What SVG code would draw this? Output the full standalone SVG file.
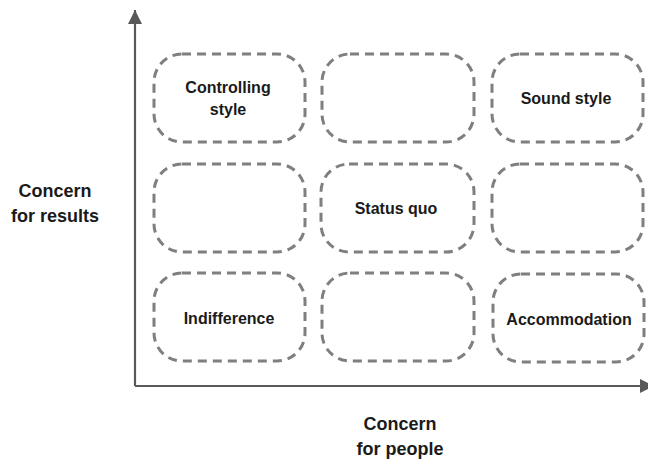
<svg xmlns="http://www.w3.org/2000/svg" width="648" height="464" viewBox="0 0 648 464">
  <style>
    .cell { fill: none; stroke: #7f7f7f; stroke-width: 3; stroke-dasharray: 9 6; }
    .lbl { font-family: "Liberation Sans", Arial, sans-serif; font-weight: bold; font-size: 16px; fill: #1a1a1a; text-anchor: middle; }
    .axlbl { font-family: "Liberation Sans", Arial, sans-serif; font-weight: bold; font-size: 18px; fill: #1a1a1a; text-anchor: middle; }
    .axis { stroke: #595959; stroke-width: 2.2; fill: none; }
  </style>
  <defs>
    <marker id="arrow" viewBox="0 0 10 10" refX="10" refY="5" markerWidth="14" markerHeight="14" markerUnits="userSpaceOnUse" orient="auto">
      <path d="M0,0 L10,5 L0,10 z" fill="#595959"/>
    </marker>
  </defs>

  <!-- axes -->
  <g id="axes">
    <path class="axis" d="M135,386 L135,10" marker-end="url(#arrow)"/>
    <path class="axis" d="M135,386 L654,386" marker-end="url(#arrow)"/>
  </g>

  <!-- axis titles -->
  <g id="y-label">
    <text class="axlbl" x="55" y="197">Concern</text>
    <text class="axlbl" x="55" y="222">for results</text>
  </g>
  <g id="x-label">
    <text class="axlbl" x="400" y="430">Concern</text>
    <text class="axlbl" x="400" y="455">for people</text>
  </g>

  <!-- grid of styles -->
  <g id="controlling-style">
    <rect class="cell" x="154" y="54" width="151" height="88" rx="28"/>
    <text class="lbl" x="228" y="93">Controlling</text>
    <text class="lbl" x="228" y="115">style</text>
  </g>
  <g id="top-middle">
    <rect class="cell" x="322" y="54" width="152" height="88" rx="28"/>
  </g>
  <g id="sound-style">
    <rect class="cell" x="492" y="54" width="151" height="88" rx="28"/>
    <text class="lbl" x="566" y="104">Sound style</text>
  </g>

  <g id="middle-left">
    <rect class="cell" x="154" y="164" width="151" height="88" rx="28"/>
  </g>
  <g id="status-quo">
    <rect class="cell" x="321" y="164" width="153" height="88" rx="28"/>
    <text class="lbl" x="396" y="214">Status quo</text>
  </g>
  <g id="middle-right">
    <rect class="cell" x="492" y="164" width="151" height="88" rx="28"/>
  </g>

  <g id="indifference">
    <rect class="cell" x="154" y="273" width="151" height="88" rx="28"/>
    <text class="lbl" x="229" y="324">Indifference</text>
  </g>
  <g id="bottom-middle">
    <rect class="cell" x="322" y="273" width="152" height="88" rx="28"/>
  </g>
  <g id="accommodation">
    <rect class="cell" x="493" y="274" width="151" height="88" rx="28"/>
    <text class="lbl" x="569" y="325">Accommodation</text>
  </g>
</svg>
